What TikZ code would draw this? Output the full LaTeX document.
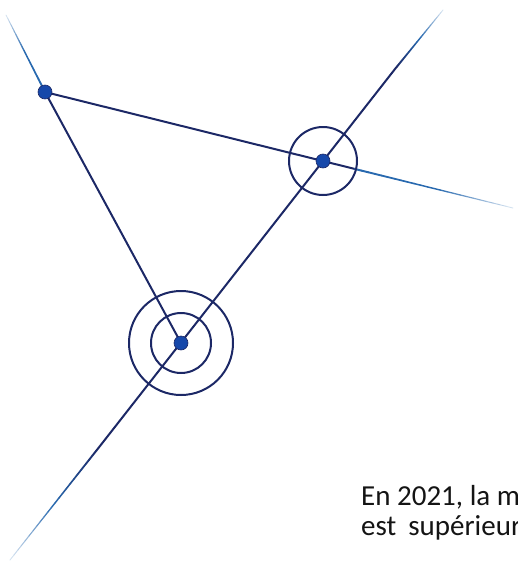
\documentclass[tikz,border=0pt]{standalone}
\usepackage{fontspec}
\setmainfont{Carlito}
\usetikzlibrary{calc}
\definecolor{navy}{RGB}{28,40,102}
\definecolor{midb}{RGB}{40,105,175}
\definecolor{pale}{RGB}{225,235,245}
\definecolor{dotb}{RGB}{22,72,170}
\definecolor{ink}{RGB}{20,20,20}
\tikzset{
  ln/.style={draw=navy, line width=2pt},
  ring/.style={draw=navy, line width=2pt, circle, inner sep=0pt, fill=none},
  pt/.style={circle, fill=dotb, draw=navy, line width=0.6pt, minimum size=14pt, inner sep=0pt},
  txt/.style={font=\fontsize{29}{32}\selectfont, text=ink, anchor=base west, inner sep=0pt}
}
\newcommand{\fadeline}[3]{%
  \foreach \i in {0,...,23}{
    \pgfmathtruncatemacro\pa{\i<12 ? 100-\i*100/12 : 100-(\i-12)*100/12}
    \pgfmathsetmacro\w{2-\i*1.2/24}
    \ifnum\i<12
      \def\fcol{#3!\pa!midb}
    \else
      \def\fcol{midb!\pa!pale}
    \fi
    \draw[line width=\w pt, color=\fcol, line cap=round]
      ($(#1)!\i/24!(#2)$) -- ($(#1)!{(\i+1)/24}!(#2)$);
  }}
\begin{document}
\begin{tikzpicture}[x=1pt,y=-1pt]
\useasboundingbox (0,0) rectangle (517,562);
\clip (0,0) rectangle (517,562);
% key points
\coordinate (a) at (45,92);
\coordinate (b) at (323,161);
\coordinate (c) at (181,343);
% line ends
\coordinate (tr) at (443,10);
\coordinate (trf) at (395,69);
\coordinate (bl) at (10,560);
\coordinate (blf) at (100,446);
\coordinate (re) at (513,208);
\coordinate (ref) at (355,169);
\coordinate (tl) at (6,15);
% lines
\draw[ln] (a) -- (c);
\draw[ln] (a) -- (ref);
\draw[ln] (blf) -- (trf);
\fadeline{trf}{tr}{navy}
\fadeline{blf}{bl}{navy}
\fadeline{ref}{re}{midb}
\fadeline{a}{tl}{midb}
% rings
\node[ring, minimum size=68pt] (rB) at (b) {};
\node[ring, minimum size=60pt] (rC1) at (c) {};
\node[ring, minimum size=104pt] (rC2) at (c) {};
% points
\node[pt] (A) at (a) {};
\node[pt] (B) at (b) {};
\node[pt] (C) at (c) {};
% text
\node[txt] (t1) at (361,505) {En 2021, la m};
\node[txt] (t2) at (361,535) {est\hspace{12pt}supérieur};
\end{tikzpicture}
\end{document}
